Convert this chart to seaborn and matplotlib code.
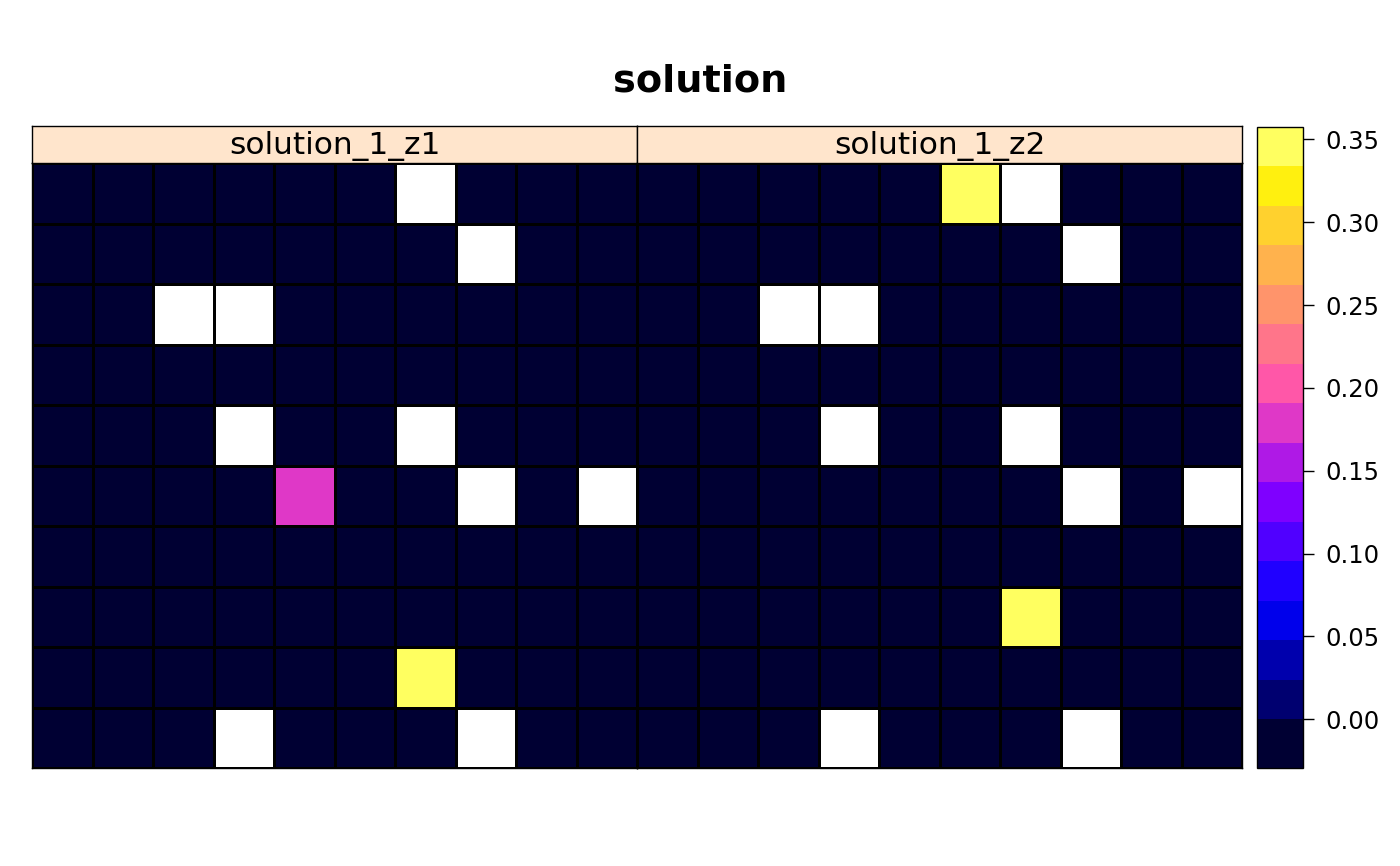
import numpy as np
import matplotlib
matplotlib.use("Agg")
import matplotlib.pyplot as plt
import seaborn as sns
from matplotlib.colors import ListedColormap, BoundaryNorm
from matplotlib.colorbar import ColorbarBase

sns.set_theme(style="white")
plt.rcParams['font.family'] = ['DejaVu Sans']

title = "solution"
panel_names = ["solution_1_z1", "solution_1_z2"]
N = np.nan

z1 = [
    [0, 0, 0, 0, 0, 0, N, 0, 0, 0],
    [0, 0, 0, 0, 0, 0, 0, N, 0, 0],
    [0, 0, N, N, 0, 0, 0, 0, 0, 0],
    [0, 0, 0, 0, 0, 0, 0, 0, 0, 0],
    [0, 0, 0, N, 0, 0, N, 0, 0, 0],
    [0, 0, 0, 0, 0.18, 0, 0, N, 0, N],
    [0, 0, 0, 0, 0, 0, 0, 0, 0, 0],
    [0, 0, 0, 0, 0, 0, 0, 0, 0, 0],
    [0, 0, 0, 0, 0, 0, 0.357, 0, 0, 0],
    [0, 0, 0, N, 0, 0, 0, N, 0, 0],
]
z2 = [
    [0, 0, 0, 0, 0, 0.357, N, 0, 0, 0],
    [0, 0, 0, 0, 0, 0, 0, N, 0, 0],
    [0, 0, N, N, 0, 0, 0, 0, 0, 0],
    [0, 0, 0, 0, 0, 0, 0, 0, 0, 0],
    [0, 0, 0, N, 0, 0, N, 0, 0, 0],
    [0, 0, 0, 0, 0, 0, 0, N, 0, N],
    [0, 0, 0, 0, 0, 0, 0, 0, 0, 0],
    [0, 0, 0, 0, 0, 0, 0.357, 0, 0, 0],
    [0, 0, 0, 0, 0, 0, 0, 0, 0, 0],
    [0, 0, 0, N, 0, 0, 0, N, 0, 0],
]
cbar_ticks = [0.00, 0.05, 0.10, 0.15, 0.20, 0.25, 0.30, 0.35]

# bpy.colors(16) palette
i = np.linspace(0.05, 0.95, 16)
r = np.where(i < .25, 0, np.where(i < .57, i / .32 - .78125, 1))
g = np.where(i < .42, 0, np.where(i < .92, 2 * i - .84, 1))
b = np.where(i < .25, 4 * i, np.where(i < .42, 1, np.where(i < .92, -2 * i + 1.84, i / .08 - 11.5)))
colors = np.clip(np.stack([r, g, b], axis=1), 0, 1)
cmap = ListedColormap(colors)
bounds = np.concatenate([[-0.0295], np.linspace(0, 0.3575, 16)])
norm = BoundaryNorm(bounds, cmap.N)
# right-closed intervals for the cells (0 falls in the lowest class)
cell_norm = BoundaryNorm(bounds + 1e-9, cmap.N)

fig = plt.figure(figsize=(14, 8.66), dpi=100)
W, H = 1400, 866

def fx(x):
    return x / W

def fy(y):
    return 1 - y / H

panel_x = [32, 637]
pw = 605
for k, (data, name) in enumerate(zip([z1, z2], panel_names)):
    x0 = panel_x[k]
    ax = fig.add_axes([fx(x0), fy(768), pw / W, (768 - 163) / H])
    arr = np.array(data, dtype=float)
    sns.heatmap(arr, ax=ax, cmap=cmap, norm=cell_norm, cbar=False,
                linewidths=0.8, linecolor="black", square=False)
    ax.set_xticks([]); ax.set_yticks([])
    ax.set_xlabel(""); ax.set_ylabel("")
    for s in ax.spines.values():
        s.set_visible(True); s.set_color("black"); s.set_linewidth(1.0)
    sax = fig.add_axes([fx(x0), fy(163), pw / W, 37 / H])
    sax.set_facecolor("#FFE5CC")
    sax.set_xticks([]); sax.set_yticks([])
    for s in sax.spines.values():
        s.set_visible(True); s.set_color("black"); s.set_linewidth(1.0)
    sax.text(0.5, 0.45, name, ha="center", va="center", fontsize=22.5,
             transform=sax.transAxes, color="black")

cax = fig.add_axes([fx(1257), fy(768), 46 / W, (768 - 127) / H])
cb = ColorbarBase(cax, cmap=cmap, norm=norm, boundaries=bounds,
                  spacing="proportional", ticks=cbar_ticks, orientation="vertical")
cb.set_ticklabels([f"{t:.2f}" for t in cbar_ticks])
cb.minorticks_off()
cb.outline.set_edgecolor("black"); cb.outline.set_linewidth(1.0)
cax.tick_params(axis="y", which="major", right=True, length=8, width=1,
                labelsize=17.5, colors="black", direction="out", pad=8)
cax.tick_params(axis="y", which="minor", length=0)
cax.yaxis.set_ticks_position("right")

fig.text(0.5, fy(81), title, ha="center", va="center", fontsize=27.5,
         fontweight="bold", color="black")

fig.savefig("out.png", dpi=100, facecolor="white")
